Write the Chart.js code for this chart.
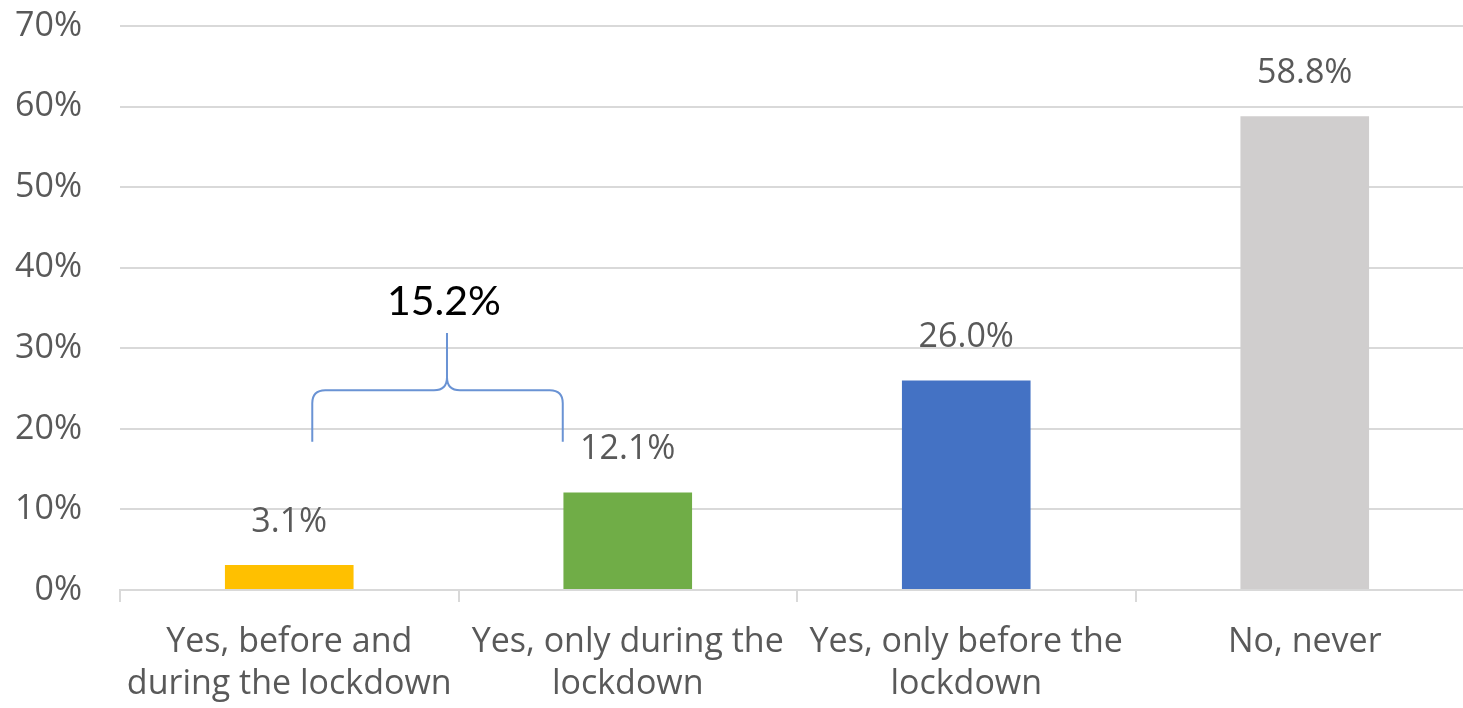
<!DOCTYPE html>
<html>
<head>
<meta charset="utf-8">
<script src="https://cdn.jsdelivr.net/npm/chart.js@4.4.1/dist/chart.umd.min.js"></script>
<style>
  html, body { margin: 0; padding: 0; background: #ffffff; overflow: hidden; }
  #wrap { width: 1474px; height: 708px; position: relative; }
</style>
</head>
<body>
<div id="wrap"><canvas id="c" width="1474" height="708"></canvas></div>
<script>
// Survey answers and their shares (%)
const categories = [
  ["Yes, before and", "during the lockdown"],
  ["Yes, only during the", "lockdown"],
  ["Yes, only before the", "lockdown"],
  "No, never"
];
const shares = [3.1, 12.1, 26.0, 58.8];
const barColors = ["#FFC000", "#70AD47", "#4472C4", "#D0CECE"];
const yMin = 0;
const yMax = 70;
const yStep = 10;
// Answers grouped under the brace (indices into categories)
const bracedGroup = [0, 1];

const textGray = "#595959";
const gridGray = "#d9d9d9";
const uiFont = "'Open Sans', 'Noto Sans', sans-serif";

// Percentage labels above each bar
const valueLabels = {
  id: "valueLabels",
  afterDatasetsDraw(chart) {
    const ctx = chart.ctx;
    const meta = chart.getDatasetMeta(0);
    ctx.save();
    ctx.font = "34px " + uiFont;
    ctx.fillStyle = textGray;
    ctx.textAlign = "center";
    ctx.textBaseline = "middle";
    meta.data.forEach((bar, i) => {
      ctx.fillText(shares[i].toFixed(1) + "%", bar.x, bar.y - 43);
    });
    ctx.restore();
  }
};

// Curly brace over the two "Yes ... during" answers with their combined share
const groupBrace = {
  id: "groupBrace",
  afterDatasetsDraw(chart) {
    const ctx = chart.ctx;
    const xs = chart.scales.x, ys = chart.scales.y;
    const c0 = xs.getPixelForValue(bracedGroup[0]);
    const c1 = xs.getPixelForValue(bracedGroup[1]);
    const span = c1 - c0;
    const left = c0 + 0.068 * span;
    const right = c0 + 0.808 * span;
    const tip = c0 + 0.466 * span;
    const yEnd = ys.getPixelForValue(18.4);
    const yBar = ys.getPixelForValue(24.8);
    const yTop = ys.getPixelForValue(31.9);
    const r = 13;

    ctx.save();
    ctx.strokeStyle = "#6A93D4";
    ctx.lineWidth = 2;
    ctx.lineJoin = "round";
    ctx.beginPath();
    ctx.moveTo(left, yEnd);
    ctx.lineTo(left, yBar + r);
    ctx.quadraticCurveTo(left, yBar, left + r, yBar);
    ctx.lineTo(tip - r, yBar);
    ctx.quadraticCurveTo(tip, yBar, tip, yBar - r);
    ctx.lineTo(tip, yTop);
    ctx.moveTo(tip, yBar - r);
    ctx.quadraticCurveTo(tip, yBar, tip + r, yBar);
    ctx.lineTo(right - r, yBar);
    ctx.quadraticCurveTo(right, yBar, right, yBar + r);
    ctx.lineTo(right, yEnd);
    ctx.stroke();

    const total = bracedGroup.reduce((s, i) => s + shares[i], 0);
    ctx.font = "41px Lato, 'Open Sans', sans-serif";
    ctx.fillStyle = "#000000";
    ctx.textAlign = "center";
    ctx.textBaseline = "alphabetic";
    ctx.fillText(total.toFixed(1) + "%", c0 + 0.457 * span, ys.getPixelForValue(34.1));
    ctx.restore();
  }
};

new Chart(document.getElementById("c"), {
  type: "bar",
  data: {
    labels: categories,
    datasets: [{
      data: shares,
      backgroundColor: barColors,
      borderWidth: 0,
      categoryPercentage: 1.0,
      barPercentage: 0.38
    }]
  },
  options: {
    responsive: false,
    animation: false,
    layout: { padding: { top: 26, left: 0, right: 0, bottom: 0 } },
    plugins: {
      legend: { display: false },
      tooltip: { enabled: false }
    },
    scales: {
      y: {
        min: yMin,
        max: yMax,
        border: { display: false },
        grid: { color: gridGray, lineWidth: 2, drawTicks: false },
        ticks: {
          stepSize: yStep,
          padding: 38,
          color: textGray,
          font: { family: uiFont, size: 34 },
          callback: v => v + "%"
        },
        afterFit: s => { s.width = 120; s.paddingTop = 0; s.paddingBottom = 0; }
      },
      x: {
        offset: true,
        border: { display: true, color: gridGray, width: 2 },
        grid: {
          offset: true,
          drawOnChartArea: false,
          drawTicks: true,
          tickLength: 12,
          color: gridGray,
          lineWidth: 2
        },
        ticks: {
          maxRotation: 0,
          autoSkip: false,
          padding: 19,
          color: textGray,
          font: { family: uiFont, size: 34, lineHeight: 1.24 }
        },
        afterFit: s => { s.height = 118; }
      }
    }
  },
  plugins: [valueLabels, groupBrace]
});
</script>
</body>
</html>
